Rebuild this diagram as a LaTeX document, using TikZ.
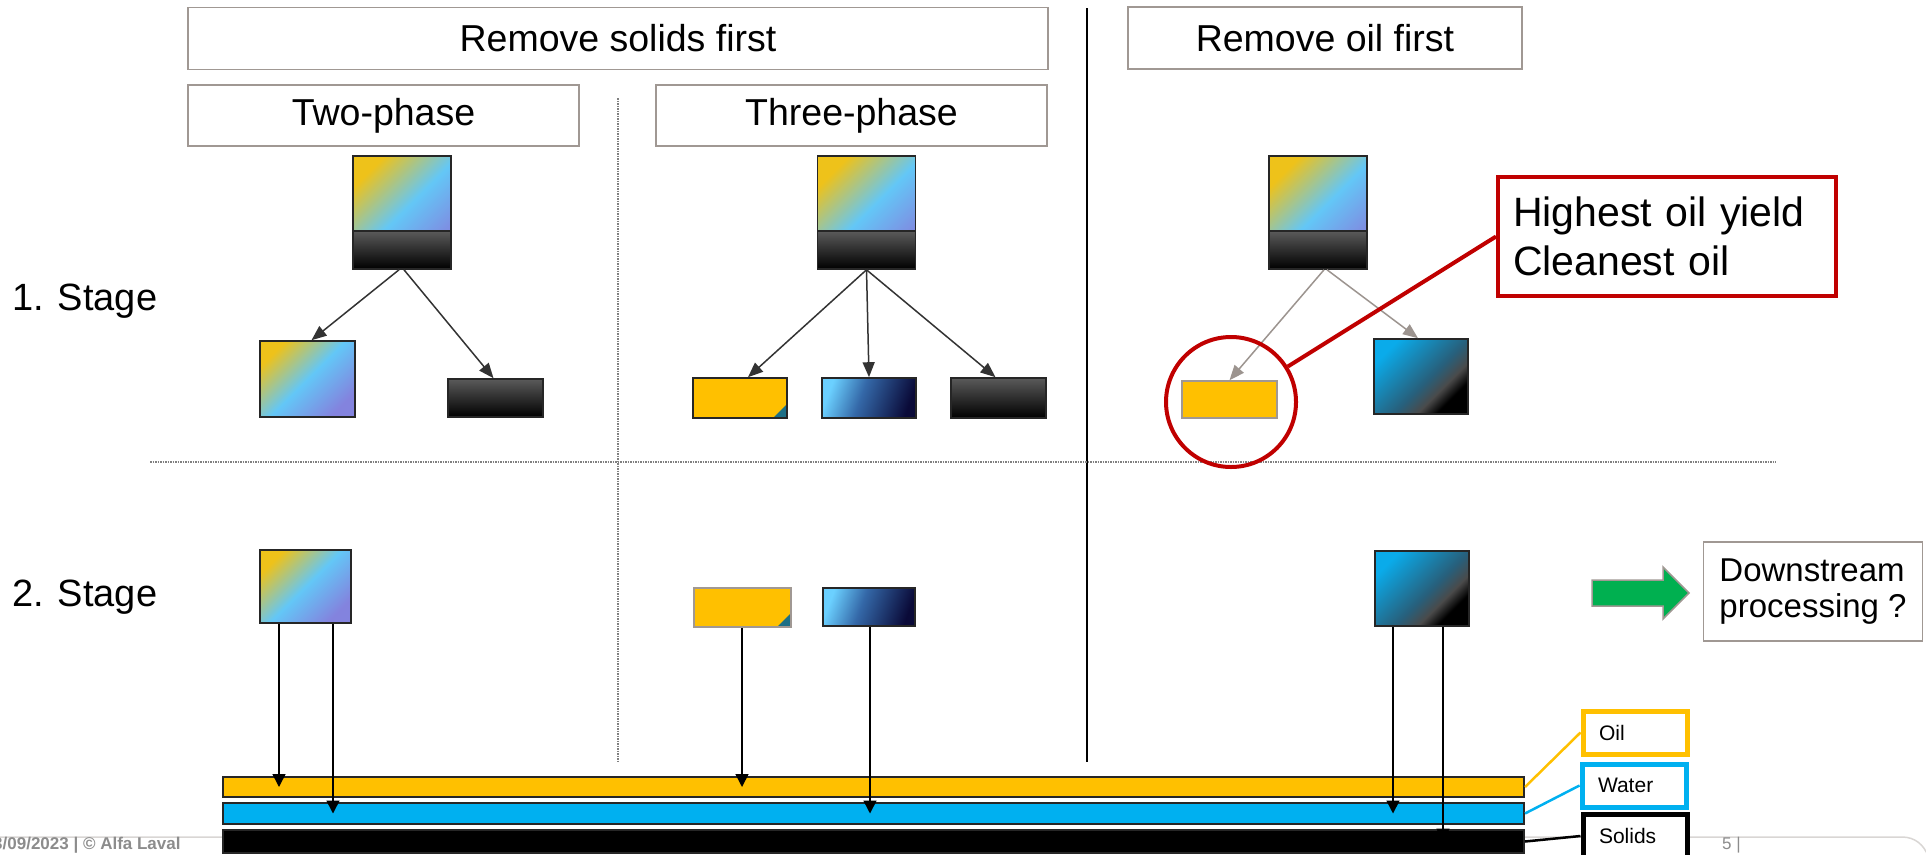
\documentclass[tikz,border=0pt]{standalone}
\usepackage{fontspec}
\setmainfont{Liberation Sans}
\usetikzlibrary{arrows.meta,calc}

\definecolor{oilY}{HTML}{FFC000}
\definecolor{waterB}{HTML}{00B0F0}
\definecolor{alertRed}{HTML}{C00000}
\definecolor{frameGray}{HTML}{A09893}
\definecolor{arrowGray}{HTML}{9C948F}
\definecolor{dotGray}{HTML}{808080}
\definecolor{footGray}{HTML}{8C8C8C}
\definecolor{footLine}{HTML}{D9D6D4}
\definecolor{goGreen}{HTML}{00B050}
\definecolor{mixY}{HTML}{EEC21A}
\definecolor{mixB}{HTML}{63C7F7}
\definecolor{mixP}{HTML}{8383DE}
\definecolor{sludgeT}{HTML}{5A5A5A}
\definecolor{wL}{HTML}{6BD0FF}
\definecolor{wM}{HTML}{3468A8}
\definecolor{wR}{HTML}{0A0A38}
\definecolor{dT}{HTML}{0AABEA}
\definecolor{dM}{HTML}{27607C}
\definecolor{dG}{HTML}{4A4A4A}
\definecolor{cornerT}{HTML}{1C6F86}

% colour ramps for the phase boxes
\pgfdeclarehorizontalshading{mixture}{100bp}{color(0bp)=(mixY); color(25bp)=(mixY); color(50bp)=(mixB); color(75bp)=(mixP); color(100bp)=(mixP)}
\pgfdeclarehorizontalshading{watery}{100bp}{color(0bp)=(wL); color(25bp)=(wL); color(45bp)=(wM); color(75bp)=(wR); color(100bp)=(wR)}
\pgfdeclarehorizontalshading{wetsolids}{100bp}{color(0bp)=(dT); color(25bp)=(dT); color(54bp)=(dM); color(64bp)=(dG); color(72bp)=(black); color(100bp)=(black)}
\pgfdeclarehorizontalshading{oilcornershade}{100bp}{color(0bp)=(oilY); color(25bp)=(oilY); color(52bp)=(oilY); color(64bp)=(oilY!55!cornerT); color(75bp)=(cornerT); color(100bp)=(cornerT)}

\begin{document}
\begin{tikzpicture}[x=1pt, y=-1pt,
  hdr/.style={draw=frameGray, line width=1.3pt, fill=white, inner sep=0pt, minimum height=62pt, font=\fontsize{37.5}{45}\selectfont},
  stagelbl/.style={anchor=west, inner sep=0pt, font=\fontsize{38}{45}\selectfont},
  cell/.style={inner sep=0pt, line width=1.6pt, draw=black!85},
  mixture/.style={cell, shade, shading=mixture, shading angle=-45},
  sludge/.style={cell, top color=sludgeT, bottom color=black},
  oilcell/.style={cell, fill=oilY},
  oilcorner/.style={path picture={
      \shade[shading=oilcornershade, shading angle=-45]
        ($(path picture bounding box.south east)+(-14,0)$) -- (path picture bounding box.south east)
        -- ($(path picture bounding box.south east)+(0,-14)$) -- cycle;}},
  watercell/.style={cell, shade, shading=watery, shading angle=-20},
  wetsolidcell/.style={cell, shade, shading=wetsolids, shading angle=-45},
  feedcell/.style={cell, minimum width=98pt, minimum height=113pt, path picture={
      \shade[shading=mixture, shading angle=-45]
        (path picture bounding box.north west) rectangle ($(path picture bounding box.south east)+(0,-38)$);
      \shade[top color=sludgeT, bottom color=black]
        ($(path picture bounding box.south west)+(0,-38)$) rectangle (path picture bounding box.south east);
      \draw[line width=1.6pt, black!85]
        ($(path picture bounding box.south west)+(0,-38)$) -- ($(path picture bounding box.south east)+(0,-38)$);}},
  split/.style={draw=black!80, line width=1.5pt, -{Triangle[length=15pt,width=12pt]}},
  splitgray/.style={split, draw=arrowGray},
  drop/.style={draw=black, line width=1.6pt, -{Triangle[length=13pt,width=13pt]}},
  bar/.style={draw=black!85, line width=2pt, inner sep=0pt, minimum width=1301pt},
  legend/.style={line width=5pt, fill=white, inner xsep=16pt, inner ysep=0pt, text width=72pt, align=left, minimum height=43pt, font=\fontsize{21}{25}\selectfont},
  sep/.style={dotGray, line width=1.2pt, dash pattern=on 1.5pt off 1pt}
]
\useasboundingbox (0,0) rectangle (1926,854);
\clip (0,0) rectangle (1926,854);

% slide footer
\draw[footLine, line width=1.5pt] (0,837) -- (1902,837) .. controls (1915,837) and (1924,845) .. (1928,856);
\node[anchor=base west, inner sep=0pt, text=footGray, font=\bfseries\fontsize{17}{20}\selectfont] (footer) at (-7,849) {3/09/2023 | © Alfa Laval};
\node[anchor=base west, inner sep=0pt, text=footGray, font=\fontsize{17}{20}\selectfont] (pageNo) at (1722,849) {5 |};

% column and row separators
\draw[line width=2.6pt] (1087,8) -- (1087,762);
\draw[sep] (618,98) -- (618,763);
\draw[sep] (150,462) -- (1776,462);

% headers
\node[hdr, minimum width=860pt] (solidsFirst) at (618,38.5) {Remove solids first};
\node[hdr, minimum width=394pt] (oilFirst) at (1325,38) {Remove oil first};
\node[hdr, minimum width=391pt, minimum height=61pt] (twoPhase) at (383.5,115.5) {Two-phase};
\node[hdr, minimum width=391pt, minimum height=61pt] (threePhase) at (851.5,115.5) {Three-phase};

% row labels
\node[stagelbl] (stage1) at (12,301) {1. Stage};
\node[stagelbl] (stage2) at (12,597) {2. Stage};

% stage 1
\node[feedcell] (feedA) at (402,212.5) {};
\node[feedcell] (feedB) at (866.5,212.5) {};
\node[feedcell] (feedC) at (1318,212.5) {};
\node[mixture, minimum width=95pt, minimum height=76pt] (twoLiquid) at (307.5,379) {};
\node[sludge, minimum width=95pt, minimum height=38pt] (twoSolid) at (495.5,398) {};
\node[oilcell, oilcorner, minimum width=94pt, minimum height=40pt] (threeOil) at (740,398) {};
\node[watercell, minimum width=94pt, minimum height=40pt] (threeWater) at (869,398) {};
\node[sludge, minimum width=95pt, minimum height=40pt] (threeSolid) at (998.5,398) {};
\node[oilcell, draw=frameGray, minimum width=95pt, minimum height=37pt] (firstOil) at (1229.5,399.5) {};
\node[wetsolidcell, minimum width=94pt, minimum height=75pt] (firstRest) at (1421,376.5) {};

\draw[split] ([xshift=-3pt]feedA.south) -- ([xshift=4pt]twoLiquid.north);
\draw[split] ([xshift=2pt]feedA.south) -- ([xshift=-2pt]twoSolid.north);
\draw[split] (feedB.south) -- ([xshift=8pt]threeOil.north);
\draw[split] (feedB.south) -- (threeWater.north);
\draw[split] (feedB.south) -- ([xshift=-3pt]threeSolid.north);
\draw[splitgray] ([xshift=6pt]feedC.south) -- (firstOil.north);
\draw[splitgray] ([xshift=9pt]feedC.south) -- ([xshift=-3pt]firstRest.north);

% highlight
\node[circle, draw=alertRed, line width=4pt, minimum size=130pt, inner sep=0pt] (ring) at (1231,402) {};
\node[draw=alertRed, line width=4pt, fill=white, minimum width=338pt, minimum height=119pt, inner xsep=15pt, inner ysep=0pt, text width=308pt, align=left, font=\fontsize{41}{49}\selectfont] (callout) at (1667,236.5) {Highest oil yield\\Cleanest oil};
\draw[alertRed, line width=4pt] (ring) -- (callout.west);

% stage 2
\node[mixture, minimum width=91pt, minimum height=73pt] (twoLiquid2) at (305.5,586.5) {};
\node[oilcell, oilcorner, draw=frameGray, minimum width=97pt, minimum height=39pt] (threeOil2) at (742.5,607.5) {};
\node[watercell, minimum width=92pt, minimum height=38pt] (threeWater2) at (869,607) {};
\node[wetsolidcell, minimum width=94pt, minimum height=75pt] (firstRest2) at (1422,588.5) {};

% product streams
\node[bar, fill=oilY, minimum height=20pt] (oilBar) at (873.5,787) {};
\node[bar, fill=waterB, minimum height=21pt] (waterBar) at (873.5,813.5) {};
\node[bar, fill=black, minimum height=23pt] (solidsBar) at (873.5,841.5) {};

\coordinate (d1) at ([xshift=-26.5pt]twoLiquid2.south);
\coordinate (d2) at ([xshift=27.5pt]twoLiquid2.south);
\coordinate (d3) at ([xshift=-0.5pt]threeOil2.south);
\coordinate (d4) at ([xshift=1pt]threeWater2.south);
\coordinate (d5) at ([xshift=-29pt]firstRest2.south);
\coordinate (d6) at ([xshift=21pt]firstRest2.south);
\draw[drop] (d1) -- (d1 |- oilBar.center);
\draw[drop] (d2) -- (d2 |- waterBar.center);
\draw[drop] (d3) -- (d3 |- oilBar.center);
\draw[drop] (d4) -- (d4 |- waterBar.center);
\draw[drop] (d5) -- (d5 |- waterBar.center);
\draw[drop] (d6) -- (d6 |- solidsBar.center);

% legend
\node[legend, draw=oilY] (oilKey) at (1635,732.5) {Oil};
\node[legend, draw=waterB] (waterKey) at (1634,785.5) {Water};
\node[legend, draw=black] (solidsKey) at (1635,836) {Solids};
\draw[oilY, line width=2.5pt] (oilBar.east) -- (oilKey.west);
\draw[waterB, line width=2.5pt] (waterBar.east) -- (waterKey.west);
\draw[black, line width=2.5pt] (solidsBar.east) -- (solidsKey.west);

% downstream note
\draw[draw=frameGray, line width=1.5pt, fill=goGreen] (1592,580) -- (1663,580) -- (1663,567) -- (1689,593) -- (1663,619) -- (1663,606) -- (1592,606) -- cycle;
\node[draw=frameGray, line width=1.3pt, fill=white, inner xsep=16pt, align=left, minimum width=218pt, minimum height=99pt, font=\fontsize{33}{36}\selectfont] (downstream) at (1813,591.5) {Downstream\\processing ?};
\end{tikzpicture}
\end{document}
